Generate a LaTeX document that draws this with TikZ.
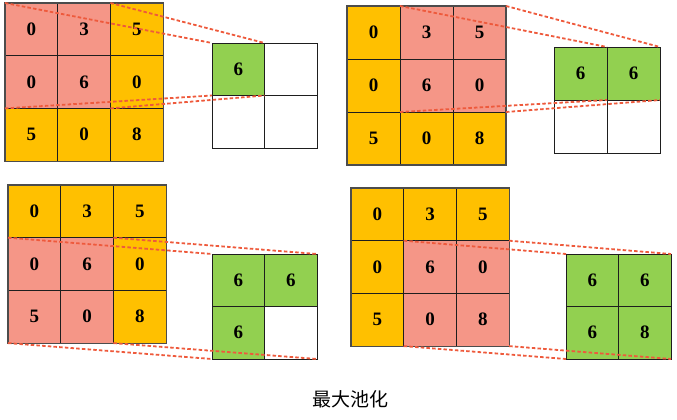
\documentclass[tikz,border=0pt]{standalone}
\usepackage{fontspec}
\setmainfont{Liberation Serif}
\newfontfamily\cjk{Noto Sans CJK SC}
\definecolor{pk}{RGB}{245,150,135}
\definecolor{og}{RGB}{255,192,0}
\definecolor{gn}{RGB}{146,208,80}
\definecolor{dl}{RGB}{238,90,60}
\definecolor{bd}{RGB}{30,30,30}
\tikzset{
  cellbox/.style={draw=bd,line width=0.9pt,anchor=north west,inner sep=0pt,outer sep=0pt,
    font=\fontsize{19}{19}\selectfont\bfseries},
  link/.style={draw=dl,line width=1.8pt,dash pattern=on 3.5pt off 2.2pt},
  frame/.style={draw=black!70,line width=1.1pt}
}
\newcommand\mkcell[6]{\node[cellbox,fill=#4,minimum size=#6pt] (#1) at (#2,#3) {#5};}
\begin{document}
\begin{tikzpicture}[x=1pt,y=-1pt]
\useasboundingbox (0,0) rectangle (677,420);
% ---------- panel 1 ----------
\mkcell{a11}{5}{3}{pk}{0}{52.7}
\mkcell{a12}{57.7}{3}{pk}{3}{52.7}
\mkcell{a13}{110.4}{3}{og}{5}{52.7}
\mkcell{a21}{5}{55.7}{pk}{0}{52.7}
\mkcell{a22}{57.7}{55.7}{pk}{6}{52.7}
\mkcell{a23}{110.4}{55.7}{og}{0}{52.7}
\mkcell{a31}{5}{108.4}{og}{5}{52.7}
\mkcell{a32}{57.7}{108.4}{og}{0}{52.7}
\mkcell{a33}{110.4}{108.4}{og}{8}{52.7}
\draw[frame] (a11.north west) rectangle (a33.south east);
\mkcell{p11}{212}{43}{gn}{6}{52.5}
\mkcell{p12}{264.5}{43}{white}{}{52.5}
\mkcell{p21}{212}{95.5}{white}{}{52.5}
\mkcell{p22}{264.5}{95.5}{white}{}{52.5}
\draw[link] (a11.north west) -- (p11.north west);
\draw[link] (a12.north east) -- (p11.north east);
\draw[link] (a21.south west) -- (p11.south west);
\draw[link] (a22.south east) -- (p11.south east);
% ---------- panel 2 ----------
\mkcell{b11}{347}{6}{og}{0}{53}
\mkcell{b12}{400}{6}{pk}{3}{53}
\mkcell{b13}{453}{6}{pk}{5}{53}
\mkcell{b21}{347}{59}{og}{0}{53}
\mkcell{b22}{400}{59}{pk}{6}{53}
\mkcell{b23}{453}{59}{pk}{0}{53}
\mkcell{b31}{347}{112}{og}{5}{53}
\mkcell{b32}{400}{112}{og}{0}{53}
\mkcell{b33}{453}{112}{og}{8}{53}
\draw[frame] (b11.north west) rectangle (b33.south east);
\mkcell{q11}{554}{47}{gn}{6}{53}
\mkcell{q12}{607}{47}{gn}{6}{53}
\mkcell{q21}{554}{100}{white}{}{53}
\mkcell{q22}{607}{100}{white}{}{53}
\draw[link] (b12.north west) -- (q12.north west);
\draw[link] (b13.north east) -- (q12.north east);
\draw[link] (b22.south west) -- (q12.south west);
\draw[link] (b23.south east) -- (q12.south east);
% ---------- panel 3 ----------
\mkcell{c11}{8}{185}{og}{0}{52.7}
\mkcell{c12}{60.7}{185}{og}{3}{52.7}
\mkcell{c13}{113.4}{185}{og}{5}{52.7}
\mkcell{c21}{8}{237.7}{pk}{0}{52.7}
\mkcell{c22}{60.7}{237.7}{pk}{6}{52.7}
\mkcell{c23}{113.4}{237.7}{og}{0}{52.7}
\mkcell{c31}{8}{290.4}{pk}{5}{52.7}
\mkcell{c32}{60.7}{290.4}{pk}{0}{52.7}
\mkcell{c33}{113.4}{290.4}{og}{8}{52.7}
\draw[frame] (c11.north west) rectangle (c33.south east);
\mkcell{r11}{212}{254}{gn}{6}{52.5}
\mkcell{r12}{264.5}{254}{gn}{6}{52.5}
\mkcell{r21}{212}{306.5}{gn}{6}{52.5}
\mkcell{r22}{264.5}{306.5}{white}{}{52.5}
\draw[link] (c21.north west) -- (r11.north west);
\draw[link] (c22.north east) -- (r12.north east);
\draw[link] (c31.south west) -- (r21.south west);
\draw[link] (c32.south east) -- (r22.south east);
% ---------- panel 4 ----------
\mkcell{d11}{351}{188}{og}{0}{52.7}
\mkcell{d12}{403.7}{188}{og}{3}{52.7}
\mkcell{d13}{456.4}{188}{og}{5}{52.7}
\mkcell{d21}{351}{240.7}{og}{0}{52.7}
\mkcell{d22}{403.7}{240.7}{pk}{6}{52.7}
\mkcell{d23}{456.4}{240.7}{pk}{0}{52.7}
\mkcell{d31}{351}{293.4}{og}{5}{52.7}
\mkcell{d32}{403.7}{293.4}{pk}{0}{52.7}
\mkcell{d33}{456.4}{293.4}{pk}{8}{52.7}
\draw[frame] (d11.north west) rectangle (d33.south east);
\mkcell{s11}{566}{254}{gn}{6}{52.5}
\mkcell{s12}{618.5}{254}{gn}{6}{52.5}
\mkcell{s21}{566}{306.5}{gn}{6}{52.5}
\mkcell{s22}{618.5}{306.5}{gn}{8}{52.5}
\draw[link] (d22.north west) -- (s11.north west);
\draw[link] (d23.north east) -- (s12.north east);
\draw[link] (d32.south west) -- (s21.south west);
\draw[link] (d33.south east) -- (s22.south east);
% ---------- caption ----------
\node[font=\cjk\fontsize{19}{19}\selectfont] (cap) at (350,399) {最大池化};
\end{tikzpicture}
\end{document}
